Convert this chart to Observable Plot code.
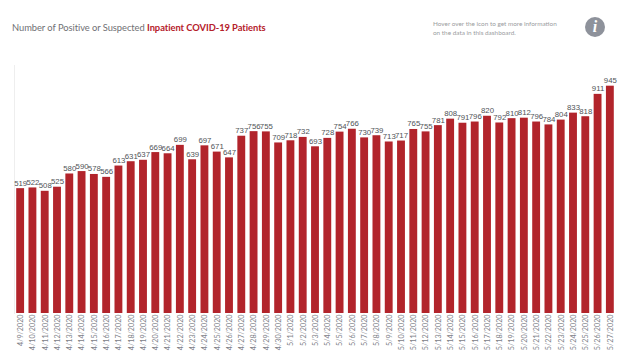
<!DOCTYPE html>
<html>
<head>
<meta charset="utf-8">
<script src="https://cdn.jsdelivr.net/npm/d3@7"></script>
<script src="https://cdn.jsdelivr.net/npm/@observablehq/plot@0.6"></script>
<style>
html,body{margin:0;padding:0;background:#fff;}
#wrap{position:relative;width:625px;height:354px;overflow:hidden;font-family:Lato,sans-serif;}
#title{position:absolute;left:12px;top:20px;font-size:9.35px;letter-spacing:-0.05px;line-height:16px;color:#6f7074;white-space:nowrap;}
#title b{color:#b5202a;font-weight:700;}
#note{position:absolute;left:433px;top:18.5px;font-size:6.4px;line-height:9.4px;color:#9a9ca0;white-space:nowrap;}
#icon{position:absolute;left:585px;top:17px;width:20px;height:20px;border-radius:50%;background:#8e929b;color:#fff;text-align:center;font:italic 700 16px/20px "Liberation Serif",serif;}
#chart{position:absolute;left:0;top:0;}
</style>
</head>
<body>
<div id="wrap">
<div id="chart"></div>
<div id="title">Number of Positive or Suspected <b>Inpatient COVID-19 Patients</b></div>
<div id="note">Hover over the icon to get more information<br>on the data in this dashboard.</div>
<div id="icon">i</div>
</div>
<script>
const dates = ["4/9/2020","4/10/2020","4/11/2020","4/12/2020","4/13/2020","4/14/2020","4/15/2020","4/16/2020","4/17/2020","4/18/2020","4/19/2020","4/20/2020","4/21/2020","4/22/2020","4/23/2020","4/24/2020","4/25/2020","4/26/2020","4/27/2020","4/28/2020","4/29/2020","4/30/2020","5/1/2020","5/2/2020","5/3/2020","5/4/2020","5/5/2020","5/6/2020","5/7/2020","5/8/2020","5/9/2020","5/10/2020","5/11/2020","5/12/2020","5/13/2020","5/14/2020","5/15/2020","5/16/2020","5/17/2020","5/18/2020","5/19/2020","5/20/2020","5/21/2020","5/22/2020","5/23/2020","5/24/2020","5/25/2020","5/26/2020","5/27/2020"];
const patients = [519,522,508,525,580,590,578,566,613,631,637,669,664,699,639,697,671,647,737,756,755,709,718,732,693,728,754,766,730,739,713,717,765,755,781,808,791,796,820,792,810,812,796,784,804,833,818,911,945];
const rows = dates.map((d,i)=>({date:d,value:patients[i]}));
const plot = Plot.plot({
  width:625,height:354,
  marginLeft:14,marginRight:9,marginTop:65,marginBottom:41,
  style:{background:"transparent",fontFamily:"Lato,sans-serif"},
  x:{domain:dates,round:false,paddingInner:0.36,paddingOuter:0.18,label:null},
  y:{domain:[0,1031],label:null,axis:null},
  marks:[
    Plot.frame({anchor:"left",stroke:"#eeeeee"}),
    Plot.barY(rows,{x:"date",y:"value",fill:"#b2242b"}),
    Plot.text(rows,{x:"date",y:"value",text:d=>String(d.value),dy:-5.5,fontSize:7.8,fontFamily:"'Liberation Sans Narrow','Liberation Sans',sans-serif",fill:"#505357"}),
    Plot.axisX({tickRotate:-90,tickSize:0,tickPadding:1,fontSize:7.2,fill:"#7c8087",label:null})
  ]
});
document.getElementById("chart").appendChild(plot);
</script>
</body>
</html>
